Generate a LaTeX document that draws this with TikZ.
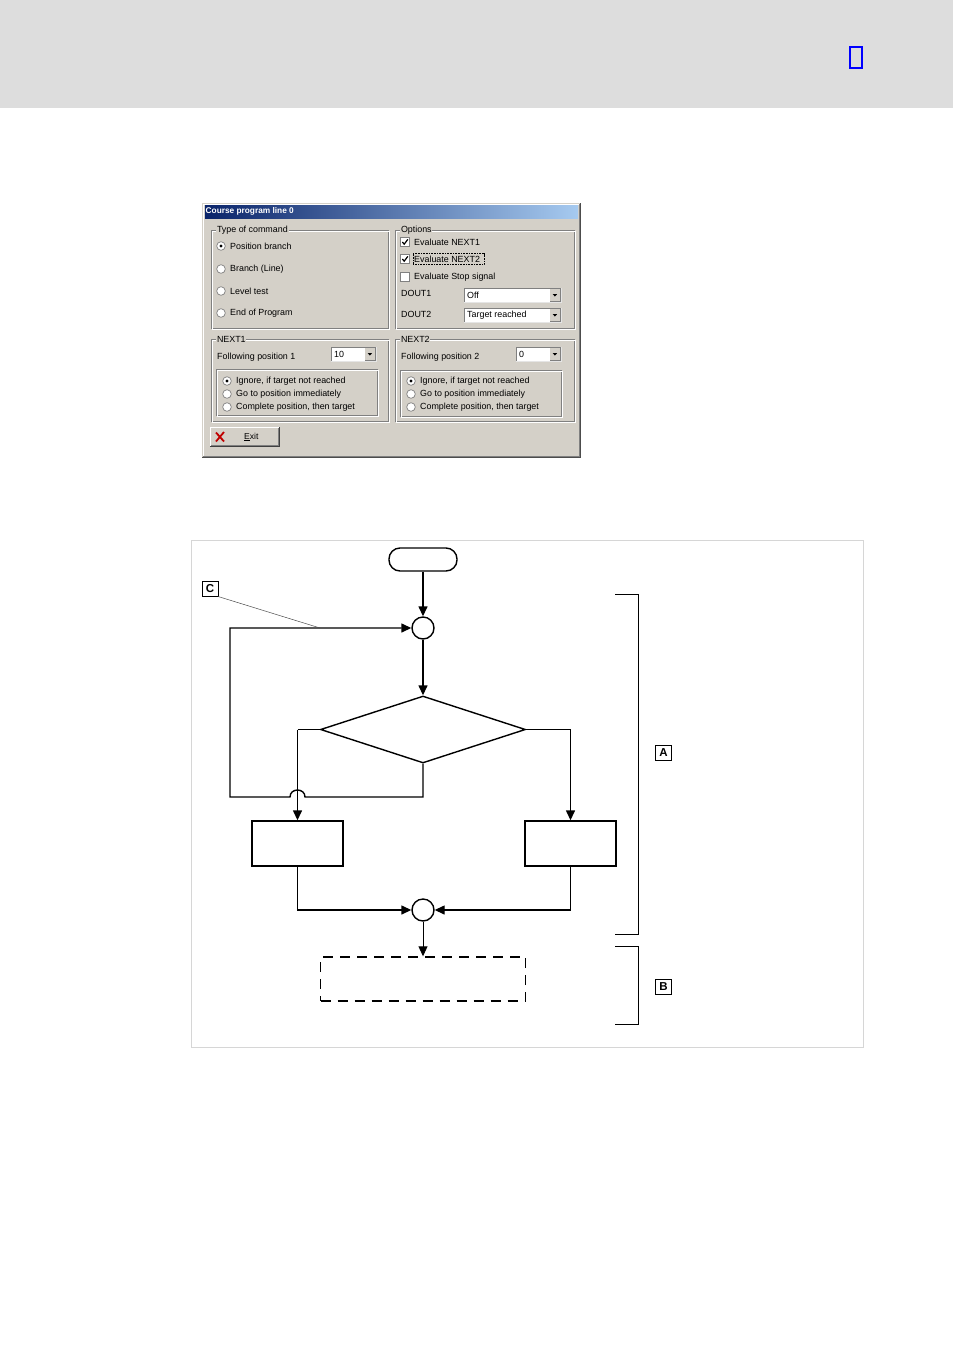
\documentclass[tikz,border=0pt]{standalone}
\usepackage{fontspec}
\setmainfont{Liberation Sans}
\usetikzlibrary{arrows.meta,shapes.geometric}
\definecolor{hdr}{HTML}{DDDDDD}
\definecolor{dlg}{HTML}{D4D0C8}
\definecolor{dkgray}{HTML}{808080}
\definecolor{tbl}{HTML}{0A246A}
\definecolor{tbr}{HTML}{A6CAF0}
\definecolor{frm}{HTML}{D6D6D6}
\definecolor{xred}{HTML}{C00000}
\newcommand\grpframe[4]{%
  \draw[dkgray,line width=0.8pt] (#1,#2) rectangle (#3,#4);
  \draw[white,line width=0.8pt] (#1+1,#2+1) rectangle (#3+1,#4+1);
}
\newcommand\radiobtn[3]{%
  \fill[white] (#1,#2) circle (4.3);
  \draw[dkgray,line width=0.7pt] (#1,#2) circle (4.3);
  \ifnum#3=1 \fill[black] (#1,#2) circle (1.6);\fi
}
\newcommand\checkbtn[3]{%
  \fill[white] (#1-4.5,#2-4.5) rectangle (#1+4.5,#2+4.5);
  \draw[dkgray,line width=0.7pt] (#1-4.5,#2-4.5) rectangle (#1+4.5,#2+4.5);
  \ifnum#3=1 \draw[black,line width=1.2pt] (#1-2.6,#2) -- (#1-0.8,#2+2.2) -- (#1+2.8,#2-2.6);\fi
}
\newcommand\combobx[5]{%
  \fill[white] (#1,#2) rectangle (#3,#4);
  \draw[dkgray,line width=0.7pt] (#3,#2) -- (#1,#2) -- (#1,#4);
  \draw[white!90!black,line width=0.7pt] (#1,#4) -- (#3,#4) -- (#3,#2);
  \fill[dlg] (#3-11,#2+1.2) rectangle (#3-1.2,#4-1.2);
  \draw[dkgray,line width=0.5pt] (#3-11,#4-1.2) -- (#3-1.2,#4-1.2) -- (#3-1.2,#2+1.2);
  \fill[black] (#3-8.4,0.5*#2+0.5*#4-1) -- (#3-3.8,0.5*#2+0.5*#4-1) -- (#3-6.1,0.5*#2+0.5*#4+1.5) -- cycle;
  \node[dtext] at (#1+3,0.5*#2+0.5*#4) {#5};
}
\begin{document}
\begin{tikzpicture}[x=1pt,y=-1pt,
  dtext/.style={font=\fontsize{8.9}{10}\selectfont,anchor=west,inner sep=0pt},
  glabel/.style={dtext,fill=dlg,inner xsep=0.8pt,inner ysep=0.5pt},
  flow/.style={line width=1.4pt,black},
  arr/.style={flow,-{Triangle[length=10pt,width=9pt]}},
  arrthin/.style={line width=0.9pt,black,-{Triangle[length=10pt,width=9pt]}},
  stub/.style={line width=0.8pt,black},
  term/.style={draw,line width=1.4pt,rectangle,rounded corners=11pt,minimum width=68pt,minimum height=23pt,inner sep=0pt},
  conn/.style={draw,line width=1.4pt,circle,minimum size=22pt,inner sep=0pt},
  dec/.style={draw,line width=1.4pt,diamond,aspect=3.06,minimum width=205pt,minimum height=67pt,inner sep=0pt},
  proc/.style={draw,line width=1.4pt,rectangle,minimum width=91pt,minimum height=45pt,inner sep=0pt},
  outbox/.style={draw,line width=1.4pt,rectangle,dash pattern=on 10pt off 7pt,minimum width=205pt,minimum height=44pt,inner sep=0pt},
  bracket/.style={line width=0.9pt,black},
  lbl/.style={draw,line width=0.6pt,font=\fontsize{11.5}{12}\selectfont\bfseries,minimum width=16pt,minimum height=14.5pt,inner sep=0pt}
]
\useasboundingbox (0,0) rectangle (953,1347);
% header band
\fill[hdr] (0,0) rectangle (953,108);
\draw[blue,line width=2pt] (850,47) rectangle (862,68);

% ===== dialog =====
\fill[dlg] (202,203) rectangle (580,457);
\draw[white,line width=0.8pt] (203,456) -- (203,204) -- (579,204);
\draw[dkgray,line width=0.8pt] (203,456) -- (579,456) -- (579,204);
\draw[black!70,line width=0.8pt] (202,457) -- (580,457) -- (580,203);
\shade[left color=tbl,right color=tbr] (205,205) rectangle (578,218);
\node[dtext,white,font=\fontsize{8.3}{9}\selectfont\bfseries] at (205.5,211.5) {Course program line 0};

% Type of command
\grpframe{211}{230}{388}{328}
\node[glabel] (gtoc) at (216,230) {Type of command};
\radiobtn{221}{246}{1}\node[dtext] at (230,246) {Position branch};
\radiobtn{221}{269}{0}\node[dtext] at (230,269) {Branch (Line)};
\radiobtn{221}{291}{0}\node[dtext] at (230,291) {Level test};
\radiobtn{221}{313}{0}\node[dtext] at (230,313) {End of Program};

% Options
\grpframe{395}{230}{574}{328}
\node[glabel] (gopt) at (400,230) {Options};
\checkbtn{405}{242}{1}\node[dtext] at (414,242) {Evaluate NEXT1};
\checkbtn{405}{259}{1}\node[dtext] at (414,259) {Evaluate NEXT2};
\draw[black,line width=0.4pt,dash pattern=on 0.8pt off 0.8pt] (413,253.5) rectangle (484,264.5);
\checkbtn{405}{277}{0}\node[dtext] at (414,277) {Evaluate Stop signal};
\node[dtext] at (401,293) {DOUT1};
\combobx{464}{288}{561}{302}{Off}
\node[dtext] at (401,314) {DOUT2};
\combobx{464}{308}{561}{322}{Target reached}

% NEXT1
\grpframe{211}{339}{388}{421}
\node[glabel] (gn1) at (216,339) {NEXT1};
\node[dtext] at (217,357) {Following position 1};
\combobx{331}{347}{376}{361}{10}
\grpframe{216}{369}{377}{415}
\radiobtn{227}{381}{1}\node[dtext] at (236,381) {Ignore, if target not reached};
\radiobtn{227}{394}{0}\node[dtext] at (236,394) {Go to position immediately};
\radiobtn{227}{407}{0}\node[dtext] at (236,407) {Complete position, then target};

% NEXT2
\grpframe{395}{339}{574}{421}
\node[glabel] (gn2) at (400,339) {NEXT2};
\node[dtext] at (401,357) {Following position 2};
\combobx{516}{347}{561}{361}{0}
\grpframe{400}{370}{561}{416}
\radiobtn{411}{381}{1}\node[dtext] at (420,381) {Ignore, if target not reached};
\radiobtn{411}{394}{0}\node[dtext] at (420,394) {Go to position immediately};
\radiobtn{411}{407}{0}\node[dtext] at (420,407) {Complete position, then target};

% Exit button
\draw[white,line width=0.8pt] (210,446) -- (210,427) -- (279,427);
\draw[black!75,line width=0.8pt] (210,446) -- (279,446) -- (279,427);
\draw[dkgray,line width=0.6pt] (211,445) -- (278,445) -- (278,428);
\draw[xred,line width=1.8pt] (216,432.5) -- (224,441.5);
\draw[xred,line width=1.8pt] (224,432) -- (216,441.5);
\node[dtext,font=\fontsize{8.6}{9}\selectfont] (exit) at (244,437) {\underline{E}xit};

% ===== flowchart =====
\draw[frm,line width=1pt] (191,540) rectangle (863,1047);

\node[term] (start) at (423,559.5) {};
\node[conn] (c1) at (423,628) {};
\node[dec] (dec) at (423,729.5) {};
\node[proc] (p1) at (297.5,843.5) {};
\node[proc] (p2) at (570.5,843.5) {};
\node[conn] (c2) at (423,910) {};
\node[outbox] (out) at (423,979) {};

\draw[arr] (start) -- (c1);
\draw[arr] (c1) -- (dec);
\draw[stub] (dec.west) -- (dec.west -| p1.north);
\draw[arr] (dec.west -| p1.north) -- (p1.north);
\draw[stub] (dec.east) -- (dec.east -| p2.north);
\draw[arr] (dec.east -| p2.north) -- (p2.north);
\coordinate (loopbl) at (230,797);
\draw[arr] (dec.south) -- (dec.south |- loopbl) -- (305,797)
  .. controls (305,787.7) and (290,787.7) .. (290,797)
  -- (loopbl) -- (loopbl |- c1) -- (c1.west);
\draw[arr] (p1.south) |- (c2.west);
\draw[arr] (p2.south) |- (c2.east);
\draw[arrthin] (c2) -- (out);

% brackets
\draw[bracket] (615,594) -- (638,594) -- (638,934) -- (615,934);
\draw[bracket] (615,946) -- (638,946) -- (638,1024) -- (615,1024);
\node[lbl] (la) at (663.5,753) {A};
\node[lbl] (lb) at (663.5,987) {B};
\node[lbl] (lc) at (210,589) {C};
\coordinate (cend) at (320,628);
\draw[black!70,line width=0.5pt] (lc.south east) -- (cend);
\end{tikzpicture}
\end{document}
